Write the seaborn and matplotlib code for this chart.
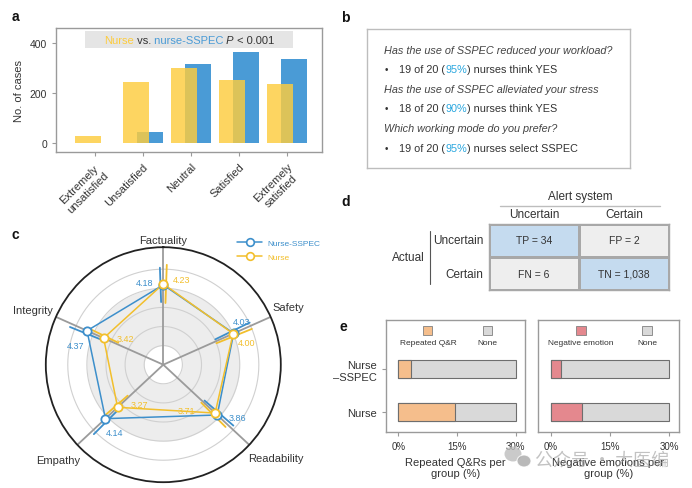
import numpy as np
import pandas as pd
import matplotlib
matplotlib.use("Agg")
from matplotlib import pyplot as plt
from matplotlib.patches import Rectangle, Ellipse
from matplotlib.lines import Line2D
from matplotlib.colors import ListedColormap, to_rgb
from matplotlib.offsetbox import TextArea, HPacker, VPacker, DrawingArea, AnnotationBbox
import seaborn as sns

# ---------------- data ----------------
# a: satisfaction survey
levels = ['Extremely\nunsatisfied', 'Unsatisfied', 'Neutral', 'Satisfied', 'Extremely\nsatisfied']
nurse_cases = [30, 245, 300, 252, 236]
sspec_cases = [2, 45, 315, 365, 335]

# b: questionnaire
questions = ['Has the use of SSPEC reduced your workload?',
             'Has the use of SSPEC alleviated your stress',
             'Which working mode do you prefer?']
answer_heads = ['19 of 20 (', '18 of 20 (', '19 of 20 (']
answer_pcts = ['95%', '90%', '95%']
answer_tails = [') nurses think YES', ') nurses think YES', ') nurses select SSPEC']

# c: radar scores
criteria = ['Factuality', 'Safety', 'Readability', 'Empathy', 'Integrity']
sspec_score = [4.18, 4.03, 3.86, 4.14, 4.37]
nurse_score = [4.23, 4.00, 3.71, 3.27, 3.42]
sspec_err = [0.9, 1.0, 1.0, 1.0, 0.9]
nurse_err = [1.0, 1.0, 0.9, 0.8, 0.8]

# d: confusion matrix
alert_cols = ['Uncertain', 'Certain']
actual_rows = ['Uncertain', 'Certain']
cm_names = [['TP', 'FP'], ['FN', 'TN']]
cm_counts = [[34, 2], [6, 1038]]
cm_correct = [[1, 0], [0, 1]]

# e: per-group rates (%)
groups_e = ['Nurse\n\u2013SSPEC', 'Nurse']
repeated_qr = [3.2, 14.4]
negative_emotion = [2.5, 7.9]
none_extent = [30, 30]

# ---------------- style ----------------
YELLOW = '#FDCC3E'
BLUE = '#4A9BD6'
R_BLUE = '#3D8FCB'
R_YEL = '#F2BF2C'
PCT = '#2AA7DF'
TXT = '#333333'
SPINE = '#9A9A9A'
GRAY = '#D9D9D9'
EDGE = '#6E6E6E'
ORANGE = '#F5BE8C'
RED = '#E4888E'

sns.set_style('white')
plt.rcParams['font.family'] = ['Liberation Sans', 'Noto Sans CJK SC', 'DejaVu Sans']
plt.rcParams['font.size'] = 8
plt.rcParams['text.color'] = TXT
plt.rcParams['axes.labelcolor'] = TXT
plt.rcParams['xtick.labelcolor'] = TXT
plt.rcParams['ytick.labelcolor'] = TXT
plt.rcParams['xtick.color'] = SPINE
plt.rcParams['ytick.color'] = SPINE

W, H = 692, 489
fig = plt.figure(figsize=(W / 100, H / 100), dpi=100)


def px_box(x0, y0, x1, y1):
    return [x0 / W, 1 - y1 / H, (x1 - x0) / W, (y1 - y0) / H]


def rich_text(ax, parts, xy, align=(0.5, 0.5), size=8):
    areas = [TextArea(t, textprops=dict(color=c, fontsize=size, fontstyle=st)) for t, c, st in parts]
    box = HPacker(children=areas, align='baseline', pad=0, sep=0)
    ab = AnnotationBbox(box, xy, xycoords='axes fraction', box_alignment=align,
                        frameon=False, pad=0, zorder=5)
    ax.add_artist(ab)


def style_spines(ax, color=SPINE, lw=1.0):
    for s in ax.spines.values():
        s.set_visible(True)
        s.set_color(color)
        s.set_linewidth(lw)


# ---------------- a ----------------
ax_a = fig.add_axes(px_box(56, 29, 322, 153))
df_a = pd.DataFrame({'level': levels * 2,
                     'cases': nurse_cases + sspec_cases,
                     'group': ['Nurse'] * len(levels) + ['nurse-SSPEC'] * len(levels)})
sns.barplot(df_a, x='level', y='cases', hue='group',
            palette={'Nurse': YELLOW, 'nurse-SSPEC': BLUE},
            width=0.58, saturation=1, errorbar=None, legend=False, linewidth=0, ax=ax_a)
for p in ax_a.patches:
    mid = p.get_x() + p.get_width() / 2
    p.set_width(0.54)
    p.set_x(mid - 0.27)
    if np.allclose(p.get_facecolor()[:3], to_rgb(YELLOW)):
        p.set_alpha(0.82)
        p.set_zorder(3)
    else:
        p.set_zorder(2)
ax_a.set_xlim(-0.81, 4.73)
ax_a.set_ylim(-36, 460)
ax_a.set_yticks([0, 200, 400])
ax_a.set_xlabel('')
ax_a.set_ylabel('No. of cases', fontsize=8)
ax_a.tick_params(axis='both', bottom=True, left=True, length=3, width=0.8, labelsize=7.5)
plt.setp(ax_a.get_xticklabels(), rotation=45, ha='right', va='top',
         rotation_mode='anchor', multialignment='center', fontsize=8)
style_spines(ax_a)
ax_a.add_patch(Rectangle((0.11, 0.84), 0.78, 0.135, transform=ax_a.transAxes,
                         fc='#E5E5E5', ec='none', zorder=1))
rich_text(ax_a, [('Nurse', YELLOW, 'normal'), (' vs.', TXT, 'normal'),
                 (' nurse-SSPEC', BLUE, 'normal'), (' P', TXT, 'italic'),
                 (' < 0.001', TXT, 'normal')], (0.5, 0.905), size=8)

# ---------------- b ----------------
ax_b = fig.add_axes(px_box(367, 30, 630, 169))
ax_b.set_xticks([])
ax_b.set_yticks([])
style_spines(ax_b, '#BDBDBD')
q_y = [51, 90, 129]
a_y = [70, 109, 149]
for q, qy, ay, h, pct, tail in zip(questions, q_y, a_y, answer_heads, answer_pcts, answer_tails):
    ax_b.text(0.065, (169 - qy) / 139, q, transform=ax_b.transAxes, fontsize=7.8,
              style='italic', color='#444444', va='center', ha='left')
    ax_b.text(0.068, (169 - ay) / 139, '\u2022', transform=ax_b.transAxes, fontsize=7,
              color=TXT, va='center', ha='left')
    rich_text(ax_b, [(h, TXT, 'normal'), (pct, PCT, 'normal'), (tail, TXT, 'normal')],
              (0.122, (169 - ay) / 139), align=(0, 0.5), size=7.8)

# ---------------- c ----------------
ax_c = fig.add_axes(px_box(45.8, 248.2, 280.8, 483.2), projection='polar')
ax_c.set_theta_offset(np.pi / 2)
ax_c.set_theta_direction(-1)
spoke_deg = [0, 66, 133, 227, 294]
angles = np.deg2rad(spoke_deg)
full = np.linspace(0, 2 * np.pi, 361)
ax_c.fill_between(full, 1, 4, color='#EDEDED', lw=0, zorder=0)
for r in [1, 2, 3, 4, 5]:
    ax_c.plot(full, np.full_like(full, r), color='#D0D0D0', lw=0.8, zorder=1)
for a in angles:
    ax_c.plot([a, a], [0, 6.15], color='#9B9B9B', lw=1.3, zorder=2)

for score, err, color, shift in [(sspec_score, sspec_err, R_BLUE, -0.035),
                                 (nurse_score, nurse_err, R_YEL, 0.035)]:
    for a, v, e in zip(angles, score, err):
        ax_c.plot([a + shift, a + shift], [v - e, v + e], color=color, lw=1.3, zorder=3)
for score, color in [(sspec_score, R_BLUE), (nurse_score, R_YEL)]:
    ax_c.plot(np.append(angles, angles[0]), score + score[:1], color=color, lw=1.1, zorder=4)
    ax_c.plot(angles, score, 'o', mfc='white', mec=color, ms=6, mew=1.3, zorder=5)

ax_c.set_ylim(0, 6.15)
ax_c.set_xticks([])
ax_c.set_yticks([])
ax_c.grid(False)
ax_c.spines['polar'].set_color('#222222')
ax_c.spines['polar'].set_linewidth(1.3)

crit_offsets = [((0, 7), 'center'), ((2, 10), 'left'), ((-1, -13), 'left'),
                ((3, -15), 'right'), ((-3, 7), 'right')]
for a, name, (off, ha) in zip(angles, criteria, crit_offsets):
    ax_c.annotate(name, xy=(a, 6.15), xytext=off, textcoords='offset pixels',
                  ha=ha, va='center', fontsize=8, color=TXT, annotation_clip=False)

sspec_lab = [((-10, 2), 'right'), ((8, 12), 'center'), ((11, -3), 'left'),
             ((0, -14), 'left'), ((-11, -15), 'center')]
nurse_lab = [((10, 4), 'left'), ((5, -9), 'left'), ((-20, 3), 'right'),
             ((13, 3), 'left'), ((13, 0), 'left')]
for score, offs, color in [(sspec_score, sspec_lab, R_BLUE), (nurse_score, nurse_lab, R_YEL)]:
    for a, v, (off, ha) in zip(angles, score, offs):
        ax_c.annotate(f'{v:.2f}', xy=(a, v), xytext=off, textcoords='offset pixels',
                      ha=ha, va='center', fontsize=6.5, color=color, zorder=6)

handles = [Line2D([], [], color=R_BLUE, lw=1.1, marker='o', mfc='white', mec=R_BLUE,
                  ms=5.5, mew=1.2, label='Nurse-SSPEC'),
           Line2D([], [], color=R_YEL, lw=1.1, marker='o', mfc='white', mec=R_YEL,
                  ms=5.5, mew=1.2, label='Nurse')]
fig.legend(handles=handles, loc='upper left', bbox_to_anchor=(237 / W, 1 - 240 / H),
           frameon=False, fontsize=6, labelcolor='linecolor', handlelength=3.0,
           handletextpad=0.7, labelspacing=0.8, borderaxespad=0, borderpad=0)

# ---------------- d ----------------
ax_d = fig.add_axes(px_box(489, 225, 669, 291))
cm_text = np.array([[f'{n} = {v:,}' for n, v in zip(rn, rv)]
                    for rn, rv in zip(cm_names, cm_counts)])
sns.heatmap(np.array(cm_correct), annot=cm_text, fmt='',
            cmap=ListedColormap(['#EEEEEE', '#C5DBEF']), vmin=0, vmax=1, cbar=False,
            linewidths=1, linecolor='#A8A8A8', xticklabels=alert_cols,
            yticklabels=actual_rows, annot_kws=dict(fontsize=7.5, color=TXT), ax=ax_d)
ax_d.xaxis.tick_top()
ax_d.tick_params(length=0, labelsize=8.5)
ax_d.tick_params(axis='x', pad=3)
ax_d.tick_params(axis='y', pad=4, rotation=0)
style_spines(ax_d, '#A8A8A8')
ax_d.text(0.506, 1.42, 'Alert system', transform=ax_d.transAxes, ha='center',
          va='center', fontsize=8.5)
ax_d.plot([0.06, 0.95], [1.27, 1.27], transform=ax_d.transAxes, clip_on=False,
          color='#BDBDBD', lw=1)
ax_d.text(-0.45, 0.5, 'Actual', transform=ax_d.transAxes, ha='center', va='center',
          fontsize=8.5)
ax_d.plot([-0.328, -0.328], [0.09, 0.89], transform=ax_d.transAxes, clip_on=False,
          color='#555555', lw=0.8)

# ---------------- e ----------------
ax_e1 = fig.add_axes(px_box(386, 321, 525, 433))
ax_e2 = fig.add_axes(px_box(538, 321, 679, 433))
panels_e = [(ax_e1, repeated_qr, ORANGE, 'Repeated Q&R', 'Repeated Q&Rs per\ngroup (%)',
             [0.302, 0.727]),
            (ax_e2, negative_emotion, RED, 'Negative emotion', 'Negative emotions per\ngroup (%)',
             [0.305, 0.773])]
for ax_e, vals, color, name, xlabel, leg_x in panels_e:
    sns.barplot(x=none_extent, y=groups_e, color=GRAY, orient='h', width=0.42,
                edgecolor=EDGE, linewidth=0.8, saturation=1, ax=ax_e)
    sns.barplot(x=vals, y=groups_e, color=color, orient='h', width=0.42,
                edgecolor=EDGE, linewidth=0.8, saturation=1, ax=ax_e)
    ax_e.set_xlim(-3.2, 32.4)
    ax_e.set_ylim(1.47, -1.14)
    ax_e.set_xticks([0, 15, 30])
    ax_e.set_xticklabels(['0%', '15%', '30%'])
    ax_e.set_xlabel(xlabel, fontsize=8, labelpad=4)
    ax_e.set_ylabel('')
    ax_e.tick_params(axis='x', bottom=True, length=3, width=0.8, labelsize=7)
    style_spines(ax_e)
    for lab, col, lx in zip([name, 'None'], [color, GRAY], leg_x):
        da = DrawingArea(6.5, 6.5, 0, 0)
        da.add_artist(Rectangle((0, 0), 6.5, 6.5, fc=col, ec='#808080', lw=0.6))
        ta = TextArea(lab, textprops=dict(fontsize=6, color=TXT))
        vp = VPacker(children=[da, ta], align='center', pad=0, sep=3)
        ax_e.add_artist(AnnotationBbox(vp, (lx, 0.855), xycoords='axes fraction',
                                       box_alignment=(0.5, 0.5), frameon=False, pad=0))
ax_e1.tick_params(axis='y', left=True, length=3, width=0.8, labelsize=8)
ax_e2.set_yticks([])

# ---------------- panel letters & watermark ----------------
for letter, (x, y) in zip('abcde', [(12, 17), (341, 18), (12, 235), (341, 202), (340, 327)]):
    fig.text(x / W, 1 - y / H, letter, fontsize=10, fontweight='bold', color='#111111',
             ha='left', va='center')

fig.patches.append(Ellipse((513 / W, 1 - 455 / H), 17 / W, 15 / H, transform=fig.transFigure,
                           fc='#BDBDBD', ec='none', alpha=0.8))
fig.patches.append(Ellipse((524 / W, 1 - 462 / H), 14 / W, 12 / H, transform=fig.transFigure,
                           fc='#A8A8A8', ec='white', lw=0.8, alpha=0.8))
fig.text(602 / W, 1 - 461 / H, '\u516c\u4f17\u53f7 \u00b7 \u5927\u533b\u7f16', fontsize=13,
         color='#9A9A9A', alpha=0.6, ha='center', va='center',
         family=['Noto Sans CJK SC', 'DejaVu Sans'])

fig.savefig('out.png', dpi=100)
